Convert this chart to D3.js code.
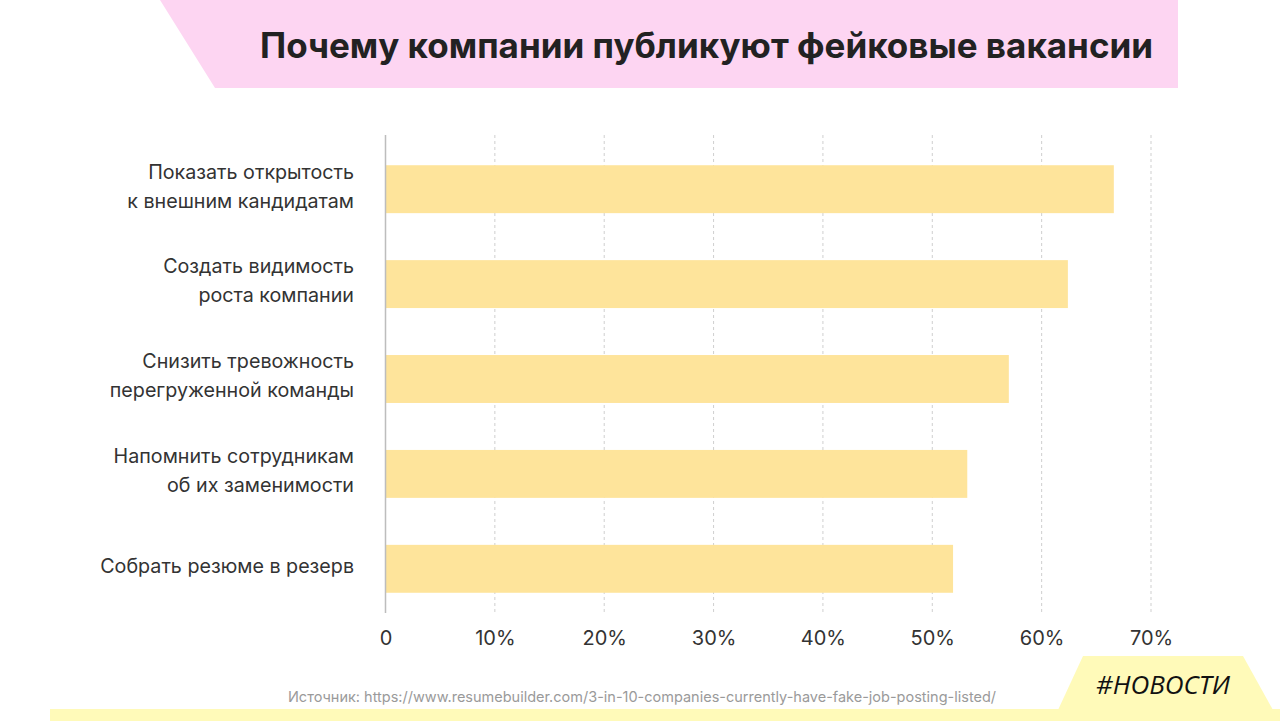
<!DOCTYPE html>
<html>
<head>
<meta charset="utf-8">
<script src="https://cdn.jsdelivr.net/npm/d3@7"></script>
<style>
  html, body { margin: 0; padding: 0; background: #ffffff; }
  svg { display: block; }
</style>
</head>
<body>
<div id="chart"></div>
<script>
// данные графика
var reasons = [
  ["Показать открытость", "к внешним кандидатам"],
  ["Создать видимость", "роста компании"],
  ["Снизить тревожность", "перегруженной команды"],
  ["Напомнить сотрудникам", "об их заменимости"],
  ["Собрать резюме в резерв"]
];
var shares = [66.6, 62.4, 57.0, 53.2, 51.9];
var xTicks = [0, 10, 20, 30, 40, 50, 60, 70];
var titleText = "Почему компании публикуют фейковые вакансии";
var sourceText = "Источник: https://www.resumebuilder.com/3-in-10-companies-currently-have-fake-job-posting-listed/";
var badgeText = "#НОВОСТИ";

var W = 1280, H = 721;
var font = "Inter, 'Noto Sans', sans-serif";

var svg = d3.select("#chart").append("svg")
  .attr("width", W)
  .attr("height", H);

// розовая плашка заголовка
svg.append("polygon")
  .attr("points", "160,0 1178,0 1178,88 215,88")
  .attr("fill", "#fdd5f2");

svg.append("text")
  .attr("x", 260)
  .attr("y", 58)
  .style("font-family", font)
  .style("font-weight", 700)
  .style("font-size", "35px")
  .style("fill", "#222222")
  .text(titleText);

// шкалы
var x = d3.scaleLinear()
  .domain([0, 70])
  .range([385.5, 1151]);

var y = d3.scaleBand()
  .domain(d3.range(shares.length))
  .range([141.5, 616.5])
  .paddingInner(0.495)
  .paddingOuter(0.25);

var gridTop = 135, gridBottom = 613;

// сетка
svg.append("g")
  .selectAll("line")
  .data(xTicks.filter(d => d > 0))
  .enter().append("line")
  .attr("x1", d => x(d))
  .attr("x2", d => x(d))
  .attr("y1", gridTop)
  .attr("y2", gridBottom)
  .attr("stroke", "#cfcfcf")
  .attr("stroke-width", 1)
  .attr("stroke-dasharray", "3,3");

// столбцы
svg.append("g")
  .selectAll("rect")
  .data(shares)
  .enter().append("rect")
  .attr("x", x(0))
  .attr("y", (d, i) => y(i))
  .attr("width", d => x(d) - x(0))
  .attr("height", y.bandwidth())
  .attr("fill", "#fee49b");

// ось Y
svg.append("line")
  .attr("x1", x(0))
  .attr("x2", x(0))
  .attr("y1", gridTop)
  .attr("y2", gridBottom)
  .attr("stroke", "#bdbdbd")
  .attr("stroke-width", 1.5);

// подписи категорий
var lineGap = 29;
var labels = svg.append("g")
  .selectAll("text")
  .data(reasons)
  .enter().append("text")
  .attr("text-anchor", "end")
  .style("font-family", font)
  .style("font-size", "19.7px")
  .style("fill", "#333333");

labels.each(function (lines, i) {
  var cy = y(i) + y.bandwidth() / 2 - 3;
  var n = lines.length;
  d3.select(this).selectAll("tspan")
    .data(lines)
    .enter().append("tspan")
    .attr("x", 354)
    .attr("y", (d, j) => cy + (j - (n - 1) / 2) * lineGap)
    .attr("dy", "0.35em")
    .text(d => d);
});

// ось X
var xAxis = svg.append("g")
  .attr("transform", "translate(0," + 631 + ")")
  .call(d3.axisBottom(x)
    .tickValues(xTicks)
    .tickSize(0)
    .tickPadding(0)
    .tickFormat(d => d === 0 ? "0" : d + "%"));

xAxis.select(".domain").remove();
xAxis.selectAll("text")
  .attr("dy", "0.71em")
  .style("font-family", font)
  .style("font-size", "20px")
  .style("fill", "#333333");

// источник
svg.append("text")
  .attr("x", 642)
  .attr("y", 702)
  .attr("text-anchor", "middle")
  .style("font-family", font)
  .style("font-size", "14.5px")
  .style("fill", "#9a9a9a")
  .text(sourceText);

// жёлтая полоса и бейдж
svg.append("rect")
  .attr("x", 50)
  .attr("y", 709)
  .attr("width", W - 50)
  .attr("height", H - 709)
  .attr("fill", "#fffab9");

svg.append("polygon")
  .attr("points", "1083,656 1243,656 1273,710 1058,710")
  .attr("fill", "#fffab9");

svg.append("text")
  .attr("x", 1163)
  .attr("y", 694)
  .attr("text-anchor", "middle")
  .style("font-family", "'Open Sans', sans-serif")
  .style("font-style", "italic")
  .style("font-size", "26px")
  .style("fill", "#111111")
  .text(badgeText);
</script>
</body>
</html>
